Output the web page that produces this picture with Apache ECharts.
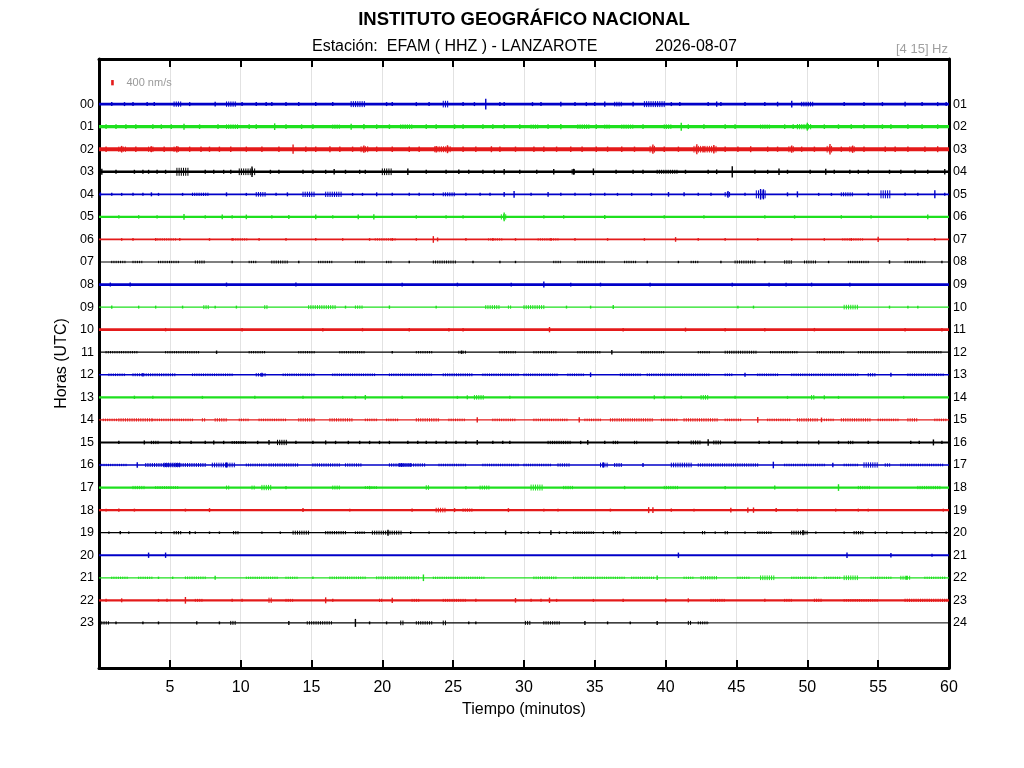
<!DOCTYPE html>
<html><head><meta charset="utf-8">
<script src="https://cdn.jsdelivr.net/npm/echarts/dist/echarts.min.js"></script>
<style>html,body{margin:0;padding:0;background:#fff}#c{width:1024px;height:768px}</style>
</head><body><div id="c"></div><script>
// ---------- DATA ----------
const hourLabelsLeft = ['00','01','02','03','04','05','06','07','08','09','10','11','12','13','14','15','16','17','18','19','20','21','22','23'];
const hourLabelsRight = ['01','02','03','04','05','06','07','08','09','10','11','12','13','14','15','16','17','18','19','20','21','22','23','24'];
// background noise half-amplitude per hour trace (nm/s)
const noiseNm = [100,125,150,100,62,88,62,38,100,50,100,38,50,88,38,75,50,88,88,38,75,38,88,50];
// minute at which each hour's record ends
const traceEnd = [60,60,60,60,60,60,60,60,60,60,60,60,60,60,60,60,60,60,60,60,60,60,60,43.1];
const scaleBarNm = 400;
// spikes: [minute, peak half-amplitude nm/s]; bursts: [fromMinute, toMinute, half-amplitude nm/s]
const spikes00 = [[0.9,150],[1.8,150],[2.4,150],[3.4,150],[3.9,150],[6.4,150],[8.2,175],[10.1,150],[11.1,150],[11.8,150],[12.2,150],[13.2,150],[14.1,150],[15.3,150],[16.5,150],[20.3,150],[20.7,150],[22.4,150],[23.3,150],[25.7,150],[26.5,150],[27.3,400],[28.3,150],[28.6,150],[30.6,150],[31.2,150],[32.6,175],[33.6,150],[34.4,150],[35.0,150],[35.7,200],[37.7,175],[40.4,150],[41.0,150],[43.0,150],[43.6,200],[43.9,150],[45.6,150],[47.0,150],[47.9,175],[48.9,250],[52.6,150],[54.0,150],[55.3,150],[56.9,175],[58.1,150],[59.2,150],[59.8,150]];
const bursts00 = [[5.3,5.9,200],[9.0,9.7,200],[17.8,18.8,225],[24.3,24.7,250],[36.4,36.9,175],[38.5,39.9,225],[49.6,50.5,175]];
const spikes01 = [[0.5,175],[1.2,175],[1.9,175],[2.6,175],[3.8,175],[4.4,175],[5.1,175],[6.0,225],[7.1,175],[8.4,175],[10.6,175],[11.1,175],[12.4,250],[13.2,175],[14.3,175],[15.1,175],[17.8,225],[18.7,200],[19.6,175],[20.5,175],[23.1,175],[23.8,175],[25.1,175],[25.7,175],[27.1,175],[27.8,175],[28.6,175],[29.7,175],[31.7,175],[32.6,200],[35.1,175],[38.4,175],[41.1,300],[41.6,175],[42.7,175],[44.2,175],[44.9,175],[48.4,175],[49.0,175],[50.0,300],[51.2,175],[52.2,175],[53.1,175],[54.0,175],[55.3,175],[55.9,175],[57.1,175],[58.1,175],[59.2,175]];
const bursts01 = [[9.0,9.9,175],[16.5,17.0,160],[21.3,22.1,175],[30.5,31.0,160],[33.8,34.7,175],[35.7,36.1,160],[36.9,37.8,160],[39.9,40.4,175],[46.7,47.4,160],[49.3,50.3,200]];
const spikes02 = [[0.5,200],[1.6,250],[2.6,200],[3.7,225],[4.6,200],[5.5,250],[6.4,200],[7.2,200],[7.8,200],[8.5,200],[9.3,200],[10.4,200],[11.5,200],[12.7,200],[13.7,350],[14.6,200],[15.3,200],[16.3,225],[17.0,200],[17.9,200],[18.7,275],[19.6,200],[20.7,200],[21.9,200],[22.6,200],[23.8,250],[24.6,300],[25.7,200],[26.6,200],[27.7,225],[28.3,200],[29.4,200],[30.7,200],[31.4,200],[32.3,200],[33.3,200],[34.1,200],[35.1,200],[35.9,200],[36.9,200],[37.8,200],[39.1,350],[39.9,200],[40.9,200],[42.2,375],[42.7,225],[43.4,325],[44.2,200],[45.1,200],[46.0,225],[47.2,200],[47.9,200],[48.9,275],[49.6,200],[50.5,200],[51.6,400],[52.4,200],[53.2,275],[54.0,200],[55.5,200],[56.2,200],[57.1,200],[58.3,200],[59.2,225]];
const bursts02 = [[1.4,1.9,200],[3.5,3.9,200],[5.3,5.7,200],[18.5,19.0,225],[23.7,24.8,225],[38.9,39.3,250],[42.0,43.6,250],[48.7,49.1,225],[51.4,51.8,250],[53.0,53.4,225]];
const spikes03 = [[0.2,225],[1.2,150],[2.5,150],[3.1,150],[3.5,150],[4.1,150],[4.7,150],[7.5,150],[8.1,150],[8.8,150],[9.3,150],[10.8,400],[12.1,150],[12.7,150],[14.4,150],[15.1,150],[16.0,150],[16.6,200],[17.4,150],[18.4,150],[18.8,150],[21.8,250],[23.1,150],[24.5,150],[25.4,175],[26.1,150],[27.1,150],[27.9,150],[28.6,200],[29.7,150],[30.9,150],[32.1,200],[33.5,225],[34.9,250],[36.5,150],[37.7,150],[38.4,150],[41.4,150],[43.0,150],[43.6,175],[44.7,425],[46.3,150],[47.2,150],[48.0,250],[48.6,150],[50.2,150],[51.3,225],[51.9,150],[53.0,150],[53.6,150],[54.3,150],[55.8,150],[56.6,150],[57.6,150],[58.5,150],[59.7,200]];
const bursts03 = [[5.5,6.4,300],[9.9,11.1,250],[20.0,20.7,250],[39.4,40.9,150],[33.4,33.7,200]];
const spikes04 = [[0.1,150],[0.9,110],[1.6,110],[2.4,110],[3.1,110],[3.7,150],[4.2,110],[5.9,110],[9.0,150],[10.4,110],[12.5,110],[13.3,150],[17.9,110],[18.6,110],[19.6,150],[20.7,110],[21.9,110],[22.6,110],[23.6,110],[25.9,110],[26.9,110],[27.6,110],[28.6,175],[29.3,250],[30.5,110],[31.7,175],[32.6,110],[33.6,110],[34.7,110],[35.7,110],[36.6,110],[37.6,110],[39.0,110],[40.2,175],[41.3,150],[42.3,110],[43.2,110],[44.4,250],[45.6,110],[46.7,400],[46.9,380],[48.6,150],[49.3,225],[50.8,110],[51.7,110],[54.3,110],[56.9,110],[57.8,110],[59.0,300],[59.7,110]];
const bursts04 = [[6.6,7.8,125],[11.1,11.8,175],[14.4,15.3,200],[16.0,17.2,200],[24.3,25.2,150],[44.2,44.6,175],[46.4,47.1,300],[52.4,53.3,150],[55.2,55.9,300]];
const spikes05 = [[1.4,130],[2.8,130],[4.1,130],[6.0,225],[7.5,130],[8.7,175],[9.4,130],[10.4,175],[12.2,130],[13.4,150],[15.3,175],[16.5,130],[18.3,175],[19.4,200],[22.4,130],[24.5,130],[25.7,130],[28.6,325],[31.4,125],[32.8,130],[35.7,150],[39.9,130],[42.7,130],[47.0,130],[49.1,130],[52.4,130],[54.5,130],[58.5,175]];
const bursts05 = [[28.4,28.8,200]];
const spikes06 = [[1.6,100],[2.4,100],[4.0,100],[5.7,100],[7.8,100],[9.4,100],[11.3,100],[13.2,100],[15.3,100],[17.2,100],[19.1,100],[20.7,100],[22.4,100],[23.6,250],[23.9,150],[25.9,100],[27.8,100],[29.4,100],[31.9,100],[33.6,100],[35.9,100],[38.5,100],[40.7,175],[42.3,100],[44.2,100],[46.5,100],[48.9,100],[51.2,100],[53.1,100],[55.0,200],[57.1,100],[59.0,100]];
const bursts06 = [[4.0,5.5,85],[9.5,10.5,85],[19.5,21.0,85],[27.5,28.5,85],[31.0,32.5,85],[52.5,54.0,85]];
const spikes07 = [[9.4,90],[14.1,90],[21.9,90],[26.4,90],[28.3,90],[29.4,90],[38.7,90],[40.9,90],[43.9,90],[47.0,90],[51.5,90],[55.8,125],[59.5,90]];
const bursts07 = [[0.9,1.9,90],[2.4,3.1,90],[4.2,5.7,90],[6.8,7.5,110],[10.6,11.1,90],[12.2,13.4,110],[15.5,16.5,90],[18.1,18.8,90],[20.3,20.7,90],[23.6,25.2,110],[32.1,32.6,90],[33.8,35.7,90],[37.1,38.0,90],[41.8,42.3,90],[44.9,46.3,110],[48.4,48.9,130],[49.8,50.7,110],[52.9,54.3,90],[56.9,58.3,90]];
const spikes08 = [[0.8,150],[2.2,150],[9.0,150],[13.9,150],[21.4,140],[25.3,140],[29.1,140],[31.4,225],[33.3,140],[35.4,140],[38.9,140],[44.7,140],[47.3,140],[48.5,140],[50.3,140],[53.0,140]];
const bursts08 = [];
const spikes09 = [[0.9,125],[2.8,110],[4.0,110],[5.9,110],[8.2,110],[9.7,110],[17.4,110],[20.5,125],[23.8,110],[33.0,110],[34.7,110],[36.3,150],[45.1,110],[46.2,110],[55.8,110],[57.1,110],[57.8,110]];
const bursts09 = [[7.4,7.8,150],[11.7,12.0,150],[14.8,16.7,150],[18.1,18.6,125],[27.3,28.3,150],[28.9,29.2,125],[30.0,31.4,150],[52.6,53.6,175]];
const spikes10 = [[4.7,130],[10.1,130],[15.8,130],[18.6,130],[21.9,130],[24.7,130],[25.7,130],[31.8,200],[37.0,130],[41.4,150],[44.2,130],[47.0,130],[50.5,130],[56.9,130],[59.5,130]];
const bursts10 = [];
const spikes11 = [[8.3,125],[20.7,90],[25.6,125],[36.2,175]];
const bursts11 = [[0.5,2.8,90],[4.7,7.1,90],[10.6,11.8,90],[14.1,15.3,90],[17.0,18.8,90],[22.4,23.6,90],[25.4,25.9,110],[28.3,29.4,90],[30.7,32.4,90],[33.8,35.4,90],[38.3,39.9,90],[42.3,43.2,90],[44.2,46.5,110],[47.4,49.3,90],[50.7,52.6,90],[53.6,55.9,90],[57.1,59.5,90]];
const spikes12 = [[3.1,125],[11.5,150],[34.7,175],[45.6,150],[55.9,150]];
const bursts12 = [[0.7,1.9,100],[2.4,5.4,110],[6.6,9.4,100],[11.1,11.8,125],[13.0,15.3,100],[16.5,19.6,100],[20.5,23.6,100],[24.3,26.4,110],[27.1,29.7,100],[30.0,32.4,100],[33.1,34.2,100],[36.8,38.2,100],[38.7,43.2,100],[44.2,44.8,100],[46.5,47.9,100],[48.9,53.6,100],[54.3,54.8,125],[57.1,59.7,100]];
const spikes13 = [[2.5,125],[3.8,110],[7.3,110],[11.0,110],[14.4,110],[17.2,110],[18.1,110],[18.8,175],[21.4,125],[25.3,110],[26.0,150],[29.0,110],[35.2,110],[39.2,150],[39.9,110],[41.1,110],[44.9,110],[48.6,110],[51.2,150],[52.2,110],[56.8,110]];
const bursts13 = [[26.5,27.2,175],[42.5,43.0,175],[50.3,50.5,175]];
const spikes14 = [[26.7,200],[33.9,200],[46.5,225],[51.0,175]];
const bursts14 = [[0.3,1.3,100],[1.4,3.8,125],[3.8,6.6,100],[7.3,7.5,125],[8.2,9.0,125],[9.9,10.6,100],[11.3,13.2,100],[14.1,15.3,125],[16.3,17.9,125],[18.8,19.6,100],[20.3,21.2,100],[22.4,24.0,125],[24.7,25.9,100],[27.8,29.4,100],[30.7,33.1,100],[34.3,35.4,100],[36.1,39.2,125],[39.7,40.8,100],[41.3,43.7,125],[44.2,45.3,100],[47.2,48.9,100],[49.3,50.8,125],[51.2,51.9,100],[52.4,54.5,125],[55.0,56.4,100],[57.1,57.8,125],[59.0,59.9,100]];
const spikes15 = [[1.4,125],[3.2,150],[5.1,125],[5.7,125],[6.5,125],[7.5,125],[8.1,150],[8.8,125],[11.2,125],[12.0,175],[13.9,125],[15.1,125],[16.0,150],[16.7,125],[17.6,125],[18.4,125],[19.1,125],[19.8,125],[20.5,125],[21.8,125],[22.5,125],[23.1,125],[23.8,125],[24.5,125],[25.2,125],[25.9,125],[26.7,175],[27.8,125],[28.5,125],[29.0,125],[34.0,125],[34.5,175],[35.7,125],[40.1,125],[40.9,125],[43.0,250],[44.9,125],[46.6,125],[47.3,125],[48.2,125],[49.3,125],[50.8,150],[52.2,125],[54.3,125],[55.0,125],[57.3,125],[57.9,125],[58.9,225],[59.5,125]];
const bursts15 = [[3.7,4.2,125],[9.4,10.4,110],[12.6,13.3,200],[31.7,33.3,125],[36.3,36.7,125],[37.8,38.1,125],[41.8,42.5,150],[43.4,43.9,150],[52.9,53.3,125]];
const spikes16 = [[2.7,200],[9.0,200],[35.6,200],[38.4,150],[47.6,250],[51.8,175]];
const bursts16 = [[0.2,2.0,90],[3.3,7.5,150],[4.6,5.7,175],[8.0,9.7,175],[10.4,11.8,110],[12.0,14.1,125],[15.1,17.0,125],[17.4,18.6,125],[20.5,23.1,125],[21.2,22.1,150],[24.0,25.9,100],[27.1,29.7,100],[30.0,31.9,100],[32.4,33.3,125],[35.4,35.9,175],[36.4,36.9,150],[40.4,41.8,175],[42.3,46.5,125],[48.4,51.2,100],[52.6,53.6,100],[54.0,55.0,200],[55.5,55.9,125],[56.6,59.7,100]];
const spikes17 = [[13.2,125],[19.1,125],[25.9,125],[37.1,125],[44.2,125],[47.7,150],[52.2,250]];
const bursts17 = [[2.4,3.3,125],[4.0,5.7,110],[9.0,9.2,150],[10.8,11.1,150],[11.5,12.2,200],[16.5,17.0,150],[18.8,19.6,110],[23.1,23.3,175],[26.9,27.6,150],[30.5,31.4,225],[32.8,33.5,125],[39.9,40.9,125],[53.6,54.5,125],[57.8,59.5,125]];
const spikes18 = [[0.5,110],[1.4,125],[2.5,110],[6.1,110],[7.8,150],[14.4,150],[17.7,110],[22.1,125],[25.1,150],[28.9,150],[31.4,110],[32.4,110],[36.1,110],[38.8,225],[39.1,225],[40.4,125],[42.0,110],[44.6,175],[45.8,200],[46.2,200],[47.8,150],[49.3,110],[52.0,110],[53.6,110],[54.3,110],[59.6,110]];
const bursts18 = [[23.8,24.5,175],[25.7,26.4,125]];
const spikes19 = [[0.7,90],[1.5,125],[2.1,90],[4.0,90],[4.4,90],[6.4,125],[6.8,90],[7.8,90],[8.5,90],[11.5,90],[12.8,90],[20.4,225],[22.0,100],[23.3,90],[24.7,90],[25.2,90],[26.5,90],[27.3,90],[28.7,150],[29.8,90],[30.3,90],[31.1,90],[31.9,175],[32.5,90],[33.0,90],[35.6,90],[37.9,90],[39.7,90],[41.3,90],[43.5,90],[45.6,90],[49.7,200],[50.6,90],[52.6,90],[54.8,90],[55.6,90],[56.7,90],[57.6,90],[58.4,90],[58.8,90],[59.8,90]];
const bursts19 = [[5.3,5.8,125],[9.5,9.9,125],[13.7,14.8,150],[16.0,17.4,125],[18.1,18.8,100],[19.3,21.4,150],[33.5,35.0,100],[36.3,36.9,125],[42.6,42.9,125],[44.2,44.4,125],[46.5,47.5,100],[48.9,50.0,150],[53.3,54.0,125]];
const spikes20 = [[3.5,200],[4.7,200],[40.9,200],[52.8,200],[55.9,175],[58.8,110]];
const bursts20 = [];
const spikes21 = [[4.2,90],[5.2,90],[8.2,150],[15.1,90],[22.9,250],[39.4,175],[57.0,150]];
const bursts21 = [[0.9,2.1,90],[2.8,3.8,90],[6.1,7.5,100],[10.4,12.7,90],[13.2,14.1,90],[16.3,18.8,100],[19.6,22.6,110],[23.6,27.3,90],[30.7,32.4,100],[33.5,37.1,90],[37.6,39.2,90],[41.3,42.0,90],[42.5,43.7,125],[45.1,46.0,90],[46.7,47.7,175],[48.9,50.7,90],[51.2,52.4,90],[52.6,53.6,175],[54.5,55.9,90],[56.6,57.3,150],[58.3,59.7,90]];
const spikes22 = [[0.5,110],[1.6,150],[4.2,110],[4.8,110],[6.1,250],[9.4,110],[10.1,110],[16.0,225],[16.5,110],[20.7,200],[26.6,110],[29.4,175],[30.5,110],[31.2,110],[31.8,200],[32.3,110],[34.9,110],[37.0,125],[40.0,150],[41.6,150],[47.0,110]];
const bursts22 = [[6.8,7.3,110],[12.0,12.2,200],[13.2,13.7,110],[19.8,20.0,125],[22.1,22.6,110],[24.3,25.9,110],[43.2,44.2,110],[48.4,48.9,110],[50.5,51.0,125],[52.6,55.0,100],[56.9,59.9,125]];
const spikes23 = [[1.2,110],[3.1,110],[4.2,110],[6.9,125],[8.5,110],[13.4,150],[18.1,300],[19.1,110],[20.3,110],[26.1,110],[26.6,110],[34.3,150],[35.9,110],[37.5,110],[39.4,150]];
const bursts23 = [[0.2,0.7,125],[9.3,9.7,150],[14.7,16.5,125],[21.3,21.6,175],[22.4,23.6,125],[24.3,24.5,175],[30.1,30.5,150],[31.4,32.6,125],[41.6,41.8,150],[42.3,43.0,110]];

const spikesByHour = [spikes00,spikes01,spikes02,spikes03,spikes04,spikes05,spikes06,spikes07,spikes08,spikes09,spikes10,spikes11,spikes12,spikes13,spikes14,spikes15,spikes16,spikes17,spikes18,spikes19,spikes20,spikes21,spikes22,spikes23];
const burstsByHour = [bursts00,bursts01,bursts02,bursts03,bursts04,bursts05,bursts06,bursts07,bursts08,bursts09,bursts10,bursts11,bursts12,bursts13,bursts14,bursts15,bursts16,bursts17,bursts18,bursts19,bursts20,bursts21,bursts22,bursts23];

// ---------- STYLE / SCALE ----------
const NM_PER_ROW = 1700;          // amplitude scale: nm/s per hour-row spacing
const rowColors = ['#0000c8','#1ee01e','#e41a1a','#000000'];
const FONT = '"Liberation Sans", Arial, Helvetica, sans-serif';

const noiseData = noiseNm.map((a,h)=>[0,h,a,traceEnd[h]]);
const burstData = [];
burstsByHour.forEach((arr,h)=>arr.forEach(b=>burstData.push([b[0],h,b[2],b[1]])));
const spikeData = [];
spikesByHour.forEach((arr,h)=>arr.forEach(s=>spikeData.push([s[0],h,s[1]])));
const tailData = [];
traceEnd.forEach((e,h)=>{ if(e<60) tailData.push([e,h,60]); });

function renderBand(params, api){
  const h = api.value(1), a = api.value(2)/NM_PER_ROW;
  const p1 = api.coord([api.value(0), h - a]);
  const p2 = api.coord([api.value(3), h + a]);
  let y = p1[1], ht = p2[1]-p1[1];
  if (ht < 1.2){ y = (p1[1]+p2[1])/2 - 0.6; ht = 1.2; }
  return {type:'rect', shape:{x:p1[0], y:y, width:p2[0]-p1[0], height:ht}, style:{fill:rowColors[h%4]}};
}
// a burst is drawn as a dense hatch of vertical strokes over its time window
function renderBurst(params, api){
  const h = api.value(1), a = api.value(2)/NM_PER_ROW;
  const p1 = api.coord([api.value(0), h - a]);
  const p2 = api.coord([api.value(3), h + a]);
  const children = [];
  for (let x = p1[0]; x <= p2[0]; x += 2.2){
    children.push({type:'line', shape:{x1:x, y1:p1[1], x2:x, y2:p2[1]}, style:{stroke:rowColors[h%4], lineWidth:1}});
  }
  return {type:'group', children};
}
function renderSpike(params, api){
  const h = api.value(1), a = api.value(2)/NM_PER_ROW;
  const p1 = api.coord([api.value(0), h - a]);
  const p2 = api.coord([api.value(0), h + a]);
  return {type:'line', shape:{x1:p1[0], y1:p1[1], x2:p2[0], y2:p2[1]}, style:{stroke:rowColors[h%4], lineWidth:1.4}};
}
function renderTail(params, api){
  const h = api.value(1);
  const p1 = api.coord([api.value(0), h]);
  const p2 = api.coord([api.value(2), h]);
  return {type:'line', shape:{x1:p1[0], y1:p1[1], x2:p2[0], y2:p2[1]}, style:{stroke:rowColors[h%4], lineWidth:1}};
}
function renderScale(params, api){
  const a = api.value(2)/NM_PER_ROW/2;
  const p1 = api.coord([api.value(0), api.value(1) - a]);
  const p2 = api.coord([api.value(0), api.value(1) + a]);
  return {type:'group', children:[
    {type:'rect', shape:{x:p1[0]-1.3, y:p1[1], width:2.6, height:p2[1]-p1[1]}, style:{fill:'#e41a1a'}},
    {type:'text', x:p1[0]+14, y:(p1[1]+p2[1])/2, style:{text:api.value(2)+' nm/s', fill:'#999', font:'11px '+FONT, align:'left', verticalAlign:'middle'}}
  ]};
}

const chart = echarts.init(document.getElementById('c'), null, {renderer:'canvas'});
const axisLineStyle = {color:'#000', width:3};
chart.setOption({
  animation:false,
  backgroundColor:'#fff',
  grid:{left:99, right:75, top:59, bottom:100, containLabel:false},
  graphic:[
    {type:'text', x:524, y:20, style:{text:'INSTITUTO GEOGRÁFICO NACIONAL', font:'bold 18.5px '+FONT, fill:'#000', align:'center', verticalAlign:'middle'}},
    {type:'text', x:312, y:46.5, style:{text:'Estación:  EFAM ( HHZ ) - LANZAROTE', font:'16px '+FONT, fill:'#000', align:'left', verticalAlign:'middle'}},
    {type:'text', x:655, y:46.5, style:{text:'2026-08-07', font:'16px '+FONT, fill:'#000', align:'left', verticalAlign:'middle'}},
    {type:'text', x:948, y:49.5, style:{text:'[4 15] Hz', font:'13px '+FONT, fill:'#a0a0a0', align:'right', verticalAlign:'middle'}}
  ],
  xAxis:[
    {type:'value', min:0, max:60, interval:5, position:'bottom',
     axisLine:{show:true, onZero:false, lineStyle:axisLineStyle},
     axisTick:{show:true, inside:true, length:8, lineStyle:{color:'#000', width:2}},
     axisLabel:{formatter:v=>v===0?'':String(v), fontSize:16, color:'#000', margin:12, fontFamily:FONT},
     splitLine:{show:true, lineStyle:{color:'#e2e2e2', width:1}},
     name:'Tiempo (minutos)', nameLocation:'middle', nameGap:34,
     nameTextStyle:{fontSize:16, color:'#000', fontFamily:FONT}},
    {type:'value', min:0, max:60, interval:5, position:'top',
     axisLine:{show:true, onZero:false, lineStyle:axisLineStyle},
     axisTick:{show:true, inside:true, length:8, lineStyle:{color:'#000', width:2}},
     axisLabel:{show:false}, splitLine:{show:false}}
  ],
  yAxis:[
    {type:'value', min:-2, max:25, interval:1, inverse:true, position:'left',
     axisLine:{show:true, onZero:false, lineStyle:axisLineStyle},
     axisTick:{show:false},
     axisLabel:{formatter:v=>hourLabelsLeft[v]||'', fontSize:12.5, color:'#000', margin:5, fontFamily:FONT},
     splitLine:{show:false},
     name:'Horas (UTC)', nameLocation:'middle', nameGap:26, nameRotate:90,
     nameTextStyle:{fontSize:16, color:'#000', fontFamily:FONT}},
    {type:'value', min:-2, max:25, interval:1, inverse:true, position:'right',
     axisLine:{show:true, onZero:false, lineStyle:axisLineStyle},
     axisTick:{show:false},
     axisLabel:{formatter:v=>hourLabelsRight[v]||'', fontSize:12.5, color:'#000', margin:4, fontFamily:FONT},
     splitLine:{show:false}}
  ],
  series:[
    {type:'custom', name:'noise', renderItem:renderBand, data:noiseData, encode:{x:0,y:1}, clip:true, z:2, silent:true},
    {type:'custom', name:'tail', renderItem:renderTail, data:tailData, encode:{x:0,y:1}, clip:true, z:2, silent:true},
    {type:'custom', name:'bursts', renderItem:renderBurst, data:burstData, encode:{x:0,y:1}, clip:true, z:3, silent:true},
    {type:'custom', name:'spikes', renderItem:renderSpike, data:spikeData, encode:{x:0,y:1}, clip:true, z:4, silent:true},
    {type:'custom', name:'scale', renderItem:renderScale, data:[[0.95,-0.95,scaleBarNm]], encode:{x:0,y:1}, z:5, silent:true}
  ]
});
</script></body></html>
